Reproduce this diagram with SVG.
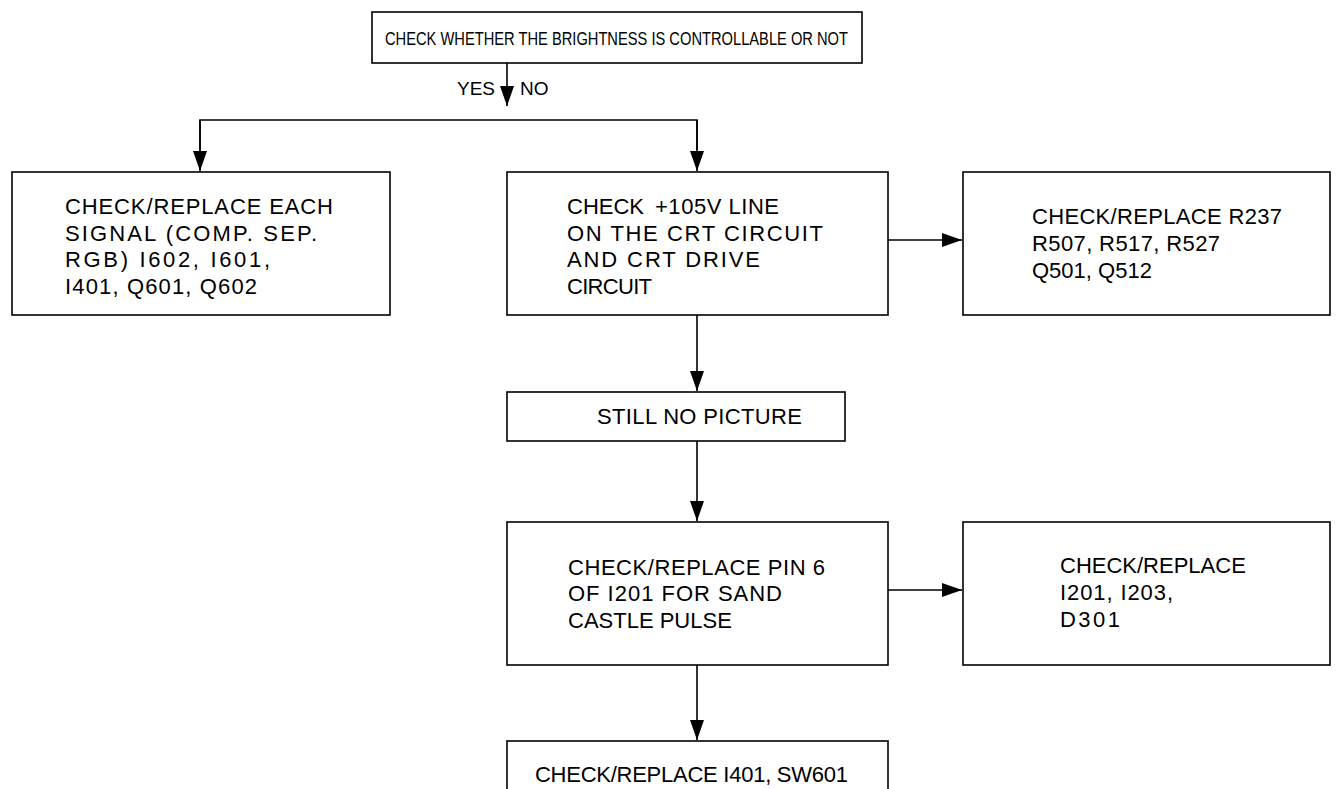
<svg xmlns="http://www.w3.org/2000/svg" width="1341" height="789" viewBox="0 0 1341 789">
<style>
.box{fill:#fff;stroke:#000;stroke-width:1.6}
.t{font-family:"Liberation Sans",Arial,sans-serif;font-size:22px;fill:#000}
.s{font-family:"Liberation Sans",Arial,sans-serif;font-size:19px;fill:#000}
.c{fill:none;stroke:#000;stroke-width:1.6}
</style>
<defs>
<marker id="ah" markerUnits="userSpaceOnUse" markerWidth="20" markerHeight="16" refX="20" refY="7" orient="auto">
<path d="M0,0 L20,7 L0,14 z" fill="#000"/>
</marker>
</defs>
<rect width="1341" height="789" fill="#fff"/>
<g id="connectors">
<line class="c" x1="507" y1="63" x2="507" y2="106" marker-end="url(#ah)"/>
<polyline class="c" points="200,150 200,120 697,120 697,150"/>
<line class="c" x1="200" y1="120" x2="200" y2="171" marker-end="url(#ah)"/>
<line class="c" x1="697" y1="120" x2="697" y2="171" marker-end="url(#ah)"/>
<line class="c" x1="888" y1="240" x2="962" y2="240" marker-end="url(#ah)"/>
<line class="c" x1="697" y1="315" x2="697" y2="391" marker-end="url(#ah)"/>
<line class="c" x1="697" y1="441" x2="697" y2="521" marker-end="url(#ah)"/>
<line class="c" x1="888" y1="590" x2="962" y2="590" marker-end="url(#ah)"/>
<line class="c" x1="697" y1="665" x2="697" y2="740" marker-end="url(#ah)"/>
<text class="s" x="495" y="95" text-anchor="end">YES</text>
<text class="s" x="520" y="95">NO</text>
</g>
<g id="n-top">
<rect class="box" x="372" y="12" width="490" height="51"/>
<text class="s" x="385" y="45" textLength="463" lengthAdjust="spacingAndGlyphs">CHECK WHETHER THE BRIGHTNESS IS CONTROLLABLE OR NOT</text>
</g>
<g id="n-yes">
<rect class="box" x="12" y="172" width="378" height="143"/>
<text class="t" x="65" y="214" textLength="268">CHECK/REPLACE EACH</text>
<text class="t" x="65" y="241" textLength="252">SIGNAL (COMP. SEP.</text>
<text class="t" x="65" y="267" textLength="205">RGB) I602, I601,</text>
<text class="t" x="65" y="294" textLength="192">I401, Q601, Q602</text>
</g>
<g id="n-105v">
<rect class="box" x="507" y="172" width="381" height="143"/>
<text class="t" x="567" y="214">CHECK</text>
<text class="t" x="655" y="214" textLength="124">+105V LINE</text>
<text class="t" x="567" y="241" textLength="256">ON THE CRT CIRCUIT</text>
<text class="t" x="567" y="267" textLength="193">AND CRT DRIVE</text>
<text class="t" x="567" y="294" textLength="85">CIRCUIT</text>
</g>
<g id="n-r237">
<rect class="box" x="963" y="172" width="367" height="143"/>
<text class="t" x="1032" y="224" textLength="250">CHECK/REPLACE R237</text>
<text class="t" x="1032" y="251" textLength="188">R507, R517, R527</text>
<text class="t" x="1032" y="278">Q501, Q512</text>
</g>
<g id="n-still">
<rect class="box" x="507" y="392" width="338" height="49"/>
<text class="t" x="597" y="424" textLength="205">STILL NO PICTURE</text>
</g>
<g id="n-pin6">
<rect class="box" x="507" y="522" width="381" height="143"/>
<text class="t" x="568" y="575" textLength="257">CHECK/REPLACE PIN 6</text>
<text class="t" x="568" y="601" textLength="214">OF I201 FOR SAND</text>
<text class="t" x="568" y="628">CASTLE PULSE</text>
</g>
<g id="n-i201">
<rect class="box" x="963" y="522" width="367" height="143"/>
<text class="t" x="1060" y="573">CHECK/REPLACE</text>
<text class="t" x="1060" y="600" textLength="113">I201, I203,</text>
<text class="t" x="1060" y="627" textLength="60">D301</text>
</g>
<g id="n-i401">
<rect class="box" x="507" y="741" width="381" height="60"/>
<text class="t" x="535" y="782" textLength="313">CHECK/REPLACE I401, SW601</text>
</g>
</svg>
